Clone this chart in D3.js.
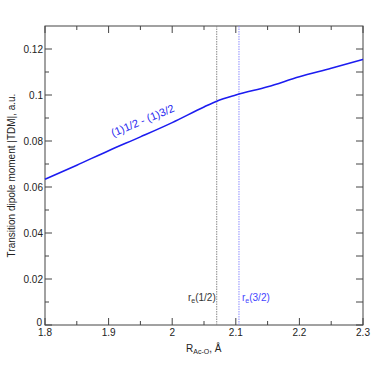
<!DOCTYPE html>
<html>
<head>
<meta charset="utf-8">
<script src="https://cdn.jsdelivr.net/npm/d3@7"></script>
<style>
  body { margin: 0; background: #fff; }
  text { font-family: "Liberation Sans", Arial, sans-serif; }
</style>
</head>
<body>
<svg id="chart" width="374" height="374"></svg>
<script>
// curve
var rValues = [1.80, 1.85, 1.90, 1.95, 2.00, 2.05, 2.07, 2.10, 2.15, 2.20, 2.25, 2.30]
var tdmValues = [0.0634, 0.0695, 0.0758, 0.0818, 0.0880, 0.0948, 0.0973, 0.1000, 0.1036, 0.1079, 0.1116, 0.1155]
var xTicks = [1.8, 1.9, 2, 2.1, 2.2, 2.3]
var yTicks = [0, 0.02, 0.04, 0.06, 0.08, 0.1, 0.12]
var reHalf = 2.07
var reThreeHalf = 2.105

var margin = {left: 45, right: 11, top: 26, bottom: 49}
var width = 374, height = 374
var svg = d3.select("#chart")

var x = d3.scaleLinear().domain([1.8, 2.3]).range([margin.left, width - margin.right])
var y = d3.scaleLinear().domain([0, 0.13]).range([height - margin.bottom, margin.top])

var axisColor = "#444"
var fmt = d => d3.format("~g")(d)

// frame
svg.append("rect")
  .attr("x", x(1.8)).attr("y", y(0.13))
  .attr("width", x(2.3) - x(1.8)).attr("height", y(0) - y(0.13))
  .attr("fill", "none").attr("stroke", axisColor).attr("stroke-width", 1)

// ticks (inside)
var minorX = d3.range(1.85, 2.3, 0.1)
var minorY = d3.range(0.01, 0.13, 0.02)
var g = svg.append("g").attr("stroke", axisColor).attr("stroke-width", 1)
xTicks.forEach(t => {
  g.append("line").attr("x1", x(t)).attr("x2", x(t)).attr("y1", y(0)).attr("y2", y(0) - 7)
  g.append("line").attr("x1", x(t)).attr("x2", x(t)).attr("y1", y(0.13)).attr("y2", y(0.13) + 7)
})
minorX.forEach(t => {
  g.append("line").attr("x1", x(t)).attr("x2", x(t)).attr("y1", y(0)).attr("y2", y(0) - 4)
  g.append("line").attr("x1", x(t)).attr("x2", x(t)).attr("y1", y(0.13)).attr("y2", y(0.13) + 4)
})
yTicks.forEach(t => {
  g.append("line").attr("x1", x(1.8)).attr("x2", x(1.8) + 7).attr("y1", y(t)).attr("y2", y(t))
  g.append("line").attr("x1", x(2.3)).attr("x2", x(2.3) - 7).attr("y1", y(t)).attr("y2", y(t))
})
minorY.forEach(t => {
  g.append("line").attr("x1", x(1.8)).attr("x2", x(1.8) + 4).attr("y1", y(t)).attr("y2", y(t))
  g.append("line").attr("x1", x(2.3)).attr("x2", x(2.3) - 7).attr("y1", y(t)).attr("y2", y(t))
})

// tick labels
svg.append("g").selectAll("text").data(xTicks).enter().append("text")
  .attr("x", d => x(d)).attr("y", y(0) + 11)
  .attr("text-anchor", "middle").attr("font-size", 10).attr("fill", "#222")
  .text(fmt)
svg.append("g").selectAll("text").data(yTicks).enter().append("text")
  .attr("x", d => d === 0 ? x(1.8) - 3 : x(1.8) - 2).attr("y", d => d === 0 ? y(d) + 1 : y(d) + 4)
  .attr("text-anchor", "end").attr("font-size", 10).attr("fill", "#222")
  .text(fmt)

// r_e markers
svg.append("line")
  .attr("x1", x(reHalf)).attr("x2", x(reHalf)).attr("y1", y(0)).attr("y2", y(0.13))
  .attr("stroke", "#888").attr("stroke-width", 1).attr("stroke-dasharray", "1.5,1")
svg.append("line")
  .attr("x1", x(reThreeHalf)).attr("x2", x(reThreeHalf)).attr("y1", y(0)).attr("y2", y(0.13))
  .attr("stroke", "#8c8cff").attr("stroke-width", 1).attr("stroke-dasharray", "1.5,1")

var re1 = svg.append("text").attr("x", x(reHalf) - 1).attr("y", 301)
  .attr("text-anchor", "end").attr("font-size", 10).attr("fill", "#333")
re1.append("tspan").text("r")
re1.append("tspan").attr("font-size", 7).attr("dy", 2).text("e")
re1.append("tspan").attr("dy", -2).text("(1/2)")

var re2 = svg.append("text").attr("x", x(reThreeHalf) + 3).attr("y", 301)
  .attr("font-size", 10).attr("fill", "#4444ff")
re2.append("tspan").text("r")
re2.append("tspan").attr("font-size", 7).attr("dy", 2).text("e")
re2.append("tspan").attr("dy", -2).text("(3/2)")

// curve
var pts = rValues.map((r, i) => [r, tdmValues[i]])
var line = d3.line().x(d => x(d[0])).y(d => y(d[1])).curve(d3.curveMonotoneX)
svg.append("path").datum(pts)
  .attr("d", line)
  .attr("fill", "none").attr("stroke", "#1c1cf0").attr("stroke-width", 1.6)

svg.append("text")
  .attr("transform", "translate(113,137) rotate(-22.5)")
  .attr("font-size", 11).attr("fill", "#2a2af0")
  .text("(1)1/2 - (1)3/2")

// axis titles
var xl = svg.append("text").attr("x", 186).attr("y", 352)
  .attr("font-size", 10).attr("fill", "#222")
xl.append("tspan").text("R")
xl.append("tspan").attr("font-size", 7).attr("dy", 2).text("Ac-O")
xl.append("tspan").attr("dy", -2).text(", Å")

svg.append("text")
  .attr("transform", "translate(15," + ((y(0) + y(0.13)) / 2) + ") rotate(-90)")
  .attr("text-anchor", "middle").attr("font-size", 10).attr("fill", "#222")
  .text("Transition dipole moment |TDM|, a.u.")
</script>
</body>
</html>
